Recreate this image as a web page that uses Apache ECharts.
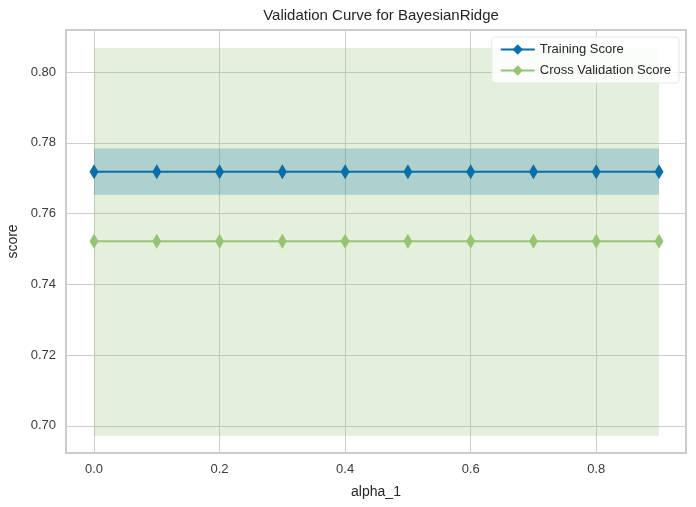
<!DOCTYPE html>
<html>
<head>
<meta charset="utf-8">
<script src="https://cdn.jsdelivr.net/npm/echarts@6/dist/echarts.min.js"></script>
<style>
  html, body { margin: 0; padding: 0; background: #fff; }
  #chart { width: 696px; height: 507px; }
</style>
</head>
<body>
<div id="chart"></div>
<script>
// alpha_1 values tried
var alphas = [0.0, 0.1, 0.2, 0.3, 0.4, 0.5, 0.6, 0.7, 0.8, 0.9];
// mean scores and +/- 1 std bands (flat across alpha)
var trainMean = [0.7718, 0.7718, 0.7718, 0.7718, 0.7718, 0.7718, 0.7718, 0.7718, 0.7718, 0.7718];
var trainLow  = [0.7653, 0.7653, 0.7653, 0.7653, 0.7653, 0.7653, 0.7653, 0.7653, 0.7653, 0.7653];
var trainHigh = [0.7784, 0.7784, 0.7784, 0.7784, 0.7784, 0.7784, 0.7784, 0.7784, 0.7784, 0.7784];
var cvMean = [0.7522, 0.7522, 0.7522, 0.7522, 0.7522, 0.7522, 0.7522, 0.7522, 0.7522, 0.7522];
var cvLow  = [0.6972, 0.6972, 0.6972, 0.6972, 0.6972, 0.6972, 0.6972, 0.6972, 0.6972, 0.6972];
var cvHigh = [0.8068, 0.8068, 0.8068, 0.8068, 0.8068, 0.8068, 0.8068, 0.8068, 0.8068, 0.8068];
var xTicks = [0.0, 0.2, 0.4, 0.6, 0.8];
var yTicks = [0.70, 0.72, 0.74, 0.76, 0.78, 0.80];

var blue = '#0a6fa6';
var green = '#97c474';
var font = 'Liberation Sans, Arial, sans-serif';

function pairs(ys) {
  return alphas.map(function (a, i) { return [a, ys[i]]; });
}
function bandRows(lo, hi) {
  return alphas.map(function (a, i) { return [a, lo[i], hi[i]]; });
}
// fill_between: one polygon through the upper edge and back along the lower edge
function bandSeries(lo, hi, color, z) {
  return {
    type: 'custom', silent: true, z: z,
    data: bandRows(lo, hi),
    encode: { x: 0, y: [1, 2] },
    renderItem: function (params, api) {
      if (params.dataIndex !== 0) return;
      var pts = [];
      for (var i = 0; i < alphas.length; i++) pts.push(api.coord([alphas[i], hi[i]]));
      for (var j = alphas.length - 1; j >= 0; j--) pts.push(api.coord([alphas[j], lo[j]]));
      return { type: 'polygon', shape: { points: pts }, style: { fill: color, opacity: 0.25 } };
    }
  };
}

var chart = echarts.init(document.getElementById('chart'));

var option = {
  animation: false,
  backgroundColor: '#fff',
  title: {
    text: 'Validation Curve for BayesianRidge',
    left: 376, top: 3, textAlign: 'center',
    textStyle: { fontFamily: font, fontSize: 15, fontWeight: 'normal', color: '#262626' }
  },
  legend: {
    orient: 'vertical',
    right: 17, top: 37,
    padding: [6, 8, 6, 8],
    itemGap: 8,
    itemWidth: 34, itemHeight: 13,
    backgroundColor: 'rgba(255,255,255,0.85)',
    borderColor: '#e6e6e6', borderWidth: 1, borderRadius: 3,
    textStyle: { fontFamily: font, fontSize: 13, color: '#262626' },
    data: ['Training Score', 'Cross Validation Score']
  },
  grid: { left: 66, right: 10, top: 30, bottom: 54, show: true, borderColor: '#cccccc', borderWidth: 2,
    containLabel: false, outerBoundsMode: 'none' },
  xAxis: {
    type: 'value',
    min: -0.0446, max: 0.943,
    name: 'alpha_1', nameLocation: 'middle', nameGap: 32,
    nameTextStyle: { fontFamily: font, fontSize: 14, color: '#262626' },
    axisLine: { show: false },
    axisTick: { show: false, customValues: xTicks },
    axisLabel: { customValues: xTicks, fontFamily: font, fontSize: 13, color: '#3a3a3a', margin: 10,
      formatter: function (v) { return v.toFixed(1); } },
    splitLine: { show: true, lineStyle: { color: '#cdcdcd', width: 1 } }
  },
  yAxis: {
    type: 'value',
    min: 0.6923, max: 0.8119,
    name: 'score', nameLocation: 'middle', nameGap: 43, nameRotate: 90,
    nameTextStyle: { fontFamily: font, fontSize: 14, color: '#262626' },
    axisLine: { show: false },
    axisTick: { show: false, customValues: yTicks },
    axisLabel: { customValues: yTicks, fontFamily: font, fontSize: 13, color: '#3a3a3a', margin: 10,
      formatter: function (v) { return v.toFixed(2); } },
    splitLine: { show: true, lineStyle: { color: '#cdcdcd', width: 1 } }
  },
  series: [
    bandSeries(cvLow, cvHigh, green, 1),
    bandSeries(trainLow, trainHigh, blue, 2),
    { name: 'Training Score', type: 'line', data: pairs(trainMean),
      symbol: 'diamond', symbolSize: [9, 15], showAllSymbol: true,
      itemStyle: { color: blue }, lineStyle: { color: blue, width: 2 }, z: 5 },
    { name: 'Cross Validation Score', type: 'line', data: pairs(cvMean),
      symbol: 'diamond', symbolSize: [9, 15], showAllSymbol: true,
      itemStyle: { color: green }, lineStyle: { color: green, width: 2 }, z: 5 }
  ]
};

chart.setOption(option);
</script>
</body>
</html>
